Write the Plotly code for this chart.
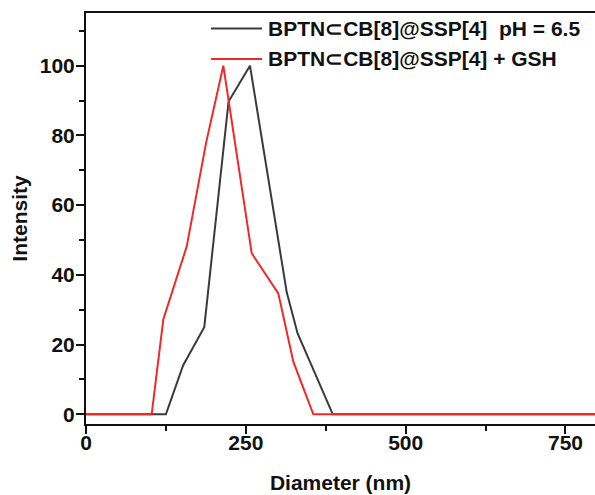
import plotly.graph_objects as go

# Data
names = ["BPTN⊂CB[8]@SSP[4]\u00a0\u00a0pH = 6.5", "BPTN⊂CB[8]@SSP[4] + GSH"]
colors = ["#3a3a3a", "#f02828"]

x_ph = [0, 125, 152, 185, 223, 256.5, 314, 331, 356, 386, 800]
y_ph = [0, 0, 14.1, 25, 89.7, 100, 35, 23.2, 12.7, 0, 0]

x_gsh = [0, 102.7, 121, 157.5, 188, 214.8, 259.2, 300.8, 324.3, 355.6, 800]
y_gsh = [0, 0, 27.3, 48.1, 78, 100, 46.2, 34.7, 15.1, 0, 0]

x_ticks = [0, 250, 500, 750]
y_ticks = [0, 20, 40, 60, 80, 100]

FONT = "Liberation Sans, Arial, sans-serif"

fig = go.Figure()
for xs, ys, nm, c in [(x_ph, y_ph, names[0], colors[0]), (x_gsh, y_gsh, names[1], colors[1])]:
    fig.add_trace(go.Scatter(x=xs, y=ys, mode="lines", name=nm,
                             line=dict(color=c, width=2), showlegend=False))

W, H = 595, 495
ml, mr, mt, mb = 86, 0, 13, 71
pw, ph = W - ml - mr, H - mt - mb

def px(xp):
    return (xp - ml) / pw

def py(yp):
    return (H - mb - yp) / ph

# manual legend
shapes = []
annotations = []
for i, (nm, c) in enumerate(zip(names, colors)):
    yy = py(28.5 + 30.5 * i)
    shapes.append(dict(type="line", xref="paper", yref="paper",
                       x0=px(211), x1=px(262), y0=yy, y1=yy,
                       line=dict(color=c, width=2)))
    annotations.append(dict(xref="paper", yref="paper", x=px(266), y=yy,
                            xanchor="left", yanchor="middle", showarrow=False,
                            text="<b>" + nm + "</b>",
                            font=dict(family=FONT, size=21, color="#111111")))

fig.update_layout(
    width=W, height=H,
    margin=dict(l=ml, r=mr, t=mt, b=mb, autoexpand=False),
    paper_bgcolor="white", plot_bgcolor="white",
    font=dict(family=FONT, size=21, color="#111111"),
    shapes=shapes, annotations=annotations,
    xaxis=dict(range=[0, pw / 0.6393], tickvals=x_ticks,
               ticktext=["<b>%d</b>" % v for v in x_ticks],
               showgrid=False, zeroline=False, automargin=False,
               showline=True, linecolor="#111111", linewidth=2, mirror=True,
               ticks="outside", ticklen=8, tickwidth=2, tickcolor="#111111",
               ticklabelstandoff=-9,
               minor=dict(ticks="outside", ticklen=5, tickwidth=2, tickcolor="#111111", dtick=125, tick0=0),
               title=dict(text="<b>Diameter (nm)</b>", font=dict(size=21), standoff=22)),
    yaxis=dict(range=[(414.3 - 424) / 3.486, (414.3 - 13) / 3.486], tickvals=y_ticks,
               ticktext=["<b>%d</b>" % v for v in y_ticks],
               showgrid=False, zeroline=False, automargin=False,
               showline=True, linecolor="#111111", linewidth=2,
               ticks="outside", ticklen=8, tickwidth=2, tickcolor="#111111",
               ticklabelstandoff=-3,
               minor=dict(ticks="outside", ticklen=5, tickwidth=2, tickcolor="#111111", dtick=10, tick0=0),
               title=dict(text="<b>Intensity</b>", font=dict(size=21), standoff=6)),
)

fig.write_html("out.html", config={"displayModeBar": False},
               post_script="document.body.style.margin='0';")
